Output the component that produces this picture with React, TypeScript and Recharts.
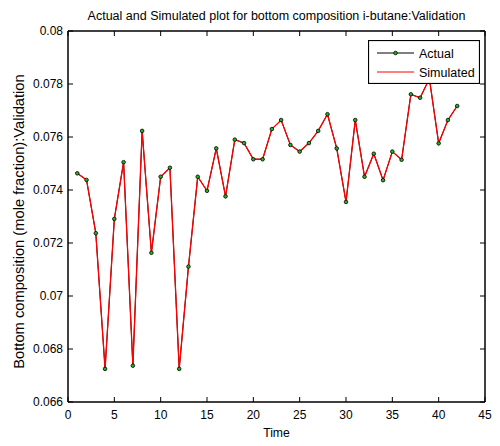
import React from 'react';
import { LineChart, Line, XAxis, YAxis, Legend, Label } from 'recharts';

const time = [1, 2, 3, 4, 5, 6, 7, 8, 9, 10, 11, 12, 13, 14, 15, 16, 17, 18, 19, 20, 21, 22, 23, 24, 25, 26, 27, 28, 29, 30, 31, 32, 33, 34, 35, 36, 37, 38, 39, 40, 41, 42];
const actual = [0.07463, 0.07438, 0.07237, 0.06725, 0.07291, 0.07505, 0.06737, 0.07623, 0.07163, 0.0745, 0.07484, 0.06725, 0.07111, 0.0745, 0.07397, 0.07557, 0.07376, 0.0759, 0.07577, 0.07516, 0.07516, 0.0763, 0.07664, 0.0757, 0.07545, 0.07577, 0.07623, 0.07686, 0.07557, 0.07355, 0.07664, 0.0745, 0.07537, 0.07437, 0.07545, 0.07514, 0.07761, 0.07748, 0.0782, 0.07576, 0.07664, 0.07717];
const simulated = [0.07463, 0.07438, 0.07237, 0.06725, 0.07291, 0.07505, 0.06737, 0.07623, 0.07163, 0.0745, 0.07484, 0.06725, 0.07111, 0.0745, 0.07397, 0.07557, 0.07376, 0.0759, 0.07577, 0.07516, 0.07516, 0.0763, 0.07664, 0.0757, 0.07545, 0.07577, 0.07623, 0.07686, 0.07557, 0.07355, 0.07664, 0.0745, 0.07537, 0.07437, 0.07545, 0.07514, 0.07761, 0.07748, 0.0782, 0.07576, 0.07664, 0.07717];

const xTicks = [0, 5, 10, 15, 20, 25, 30, 35, 40, 45];
const xTickLabels = ['0', '5', '10', '15', '20', '25', '30', '35', '40', '45'];
const yTicks = [0.066, 0.068, 0.07, 0.072, 0.074, 0.076, 0.078, 0.08];
const yTickLabels = ['0.066', '0.068', '0.07', '0.072', '0.074', '0.076', '0.078', '0.08'];

const titleText = 'Actual and Simulated plot for bottom composition i-butane:Validation';
const xLabelText = 'Time';
const yLabelText = 'Bottom composition (mole fraction):Validation';
const seriesNames = ['Actual', 'Simulated'];

const data = time.map((t, i) => ({ t, actual: actual[i], simulated: simulated[i] }));

const FONT = '"Liberation Sans", Arial, Helvetica, sans-serif';
const FS = 12;
const TICK_LEN = 5;
const AXIS_W = 1.5;
const MARKER_FILL = '#1fb31f';

const labelFor = (ticks: number[], labels: string[], v: number) => {
  const i = ticks.findIndex((t) => Math.abs(t - v) < 1e-9);
  return i >= 0 ? labels[i] : String(v);
};

const BottomTick = (props: any) => {
  const { x, y, payload } = props;
  return (
    <g>
      <line x1={x} x2={x} y1={y} y2={y - TICK_LEN} stroke="#000" strokeWidth={1} />
      <text x={x} y={y + 17} textAnchor="middle" fontSize={FS} fontFamily={FONT} fill="#000">
        {labelFor(xTicks, xTickLabels, payload.value)}
      </text>
    </g>
  );
};

const TopTick = (props: any) => {
  const { x, y } = props;
  return <line x1={x} x2={x} y1={y} y2={y + TICK_LEN} stroke="#000" strokeWidth={1} />;
};

const LeftTick = (props: any) => {
  const { x, y, payload } = props;
  return (
    <g>
      <line x1={x} x2={x + TICK_LEN} y1={y} y2={y} stroke="#000" strokeWidth={1} />
      <text x={x - 5} y={y} dy="0.36em" textAnchor="end" fontSize={FS} fontFamily={FONT} fill="#000">
        {labelFor(yTicks, yTickLabels, payload.value)}
      </text>
    </g>
  );
};

const RightTick = (props: any) => {
  const { x, y } = props;
  return <line x1={x} x2={x - TICK_LEN} y1={y} y2={y} stroke="#000" strokeWidth={1} />;
};

const TitleLabel = (props: any) => {
  const vb = props.viewBox;
  return (
    <text x={vb.x + vb.width / 2} y={vb.y - 10} textAnchor="middle" fontSize={12.5} fontFamily={FONT} fill="#000">
      {titleText}
    </text>
  );
};

const XLabel = (props: any) => {
  const vb = props.viewBox;
  return (
    <text x={vb.x + vb.width / 2} y={vb.y + 35} textAnchor="middle" fontSize={12.2} fontFamily={FONT} fill="#000">
      {xLabelText}
    </text>
  );
};

const YLabel = (props: any) => {
  const vb = props.viewBox;
  const cx = vb.x + 11;
  const cy = vb.y + vb.height / 2 + 5;
  return (
    <text
      x={cx}
      y={cy}
      textAnchor="middle"
      dominantBaseline="central"
      transform={`rotate(-90 ${cx} ${cy})`}
      fontSize={14.7}
      fontFamily={FONT}
      fill="#000"
    >
      {yLabelText}
    </text>
  );
};

const LegendBox = () => (
  <svg width={112} height={44} style={{ display: 'block' }}>
    <rect x={0.5} y={0.5} width={111} height={43} fill="#fff" stroke="#000" strokeWidth={1.2} />
    <line x1={9} x2={46} y1={13} y2={13} stroke="#000" strokeWidth={1} />
    <circle cx={27.5} cy={13} r={1.8} fill={MARKER_FILL} stroke="#000" strokeWidth={0.8} />
    <text x={51} y={13} dy="0.36em" fontSize={12.5} fontFamily={FONT} fill="#000">
      {seriesNames[0]}
    </text>
    <line x1={9} x2={46} y1={32} y2={32} stroke="#ff0000" strokeWidth={1} />
    <text x={51} y={32} dy="0.36em" fontSize={12.5} fontFamily={FONT} fill="#000">
      {seriesNames[1]}
    </text>
  </svg>
);

export default function App() {
  return (
    <div style={{ position: 'absolute', left: 0, top: 0, width: 500, height: 446, background: '#fff' }}>
      <LineChart width={500} height={446} data={data} margin={{ top: 30, right: 14, bottom: 14, left: 8 }}>
        <XAxis
          xAxisId="bottom"
          dataKey="t"
          type="number"
          domain={[0, 45]}
          ticks={xTicks}
          interval={0}
          height={30}
          tickSize={0}
          tickMargin={0}
          tickLine={false}
          axisLine={{ stroke: '#000', strokeWidth: AXIS_W }}
          tick={<BottomTick />}
        >
          <Label content={<XLabel />} />
        </XAxis>
        <XAxis
          xAxisId="top"
          orientation="top"
          dataKey="t"
          type="number"
          domain={[0, 45]}
          ticks={xTicks}
          interval={0}
          height={1}
          tickSize={0}
          tickMargin={0}
          tickLine={false}
          axisLine={{ stroke: '#000', strokeWidth: AXIS_W }}
          tick={<TopTick />}
        >
          <Label content={<TitleLabel />} />
        </XAxis>
        <YAxis
          yAxisId="left"
          type="number"
          domain={[0.066, 0.08]}
          ticks={yTicks}
          interval={0}
          width={60}
          tickSize={0}
          tickMargin={0}
          tickLine={false}
          axisLine={{ stroke: '#000', strokeWidth: AXIS_W }}
          tick={<LeftTick />}
        >
          <Label content={<YLabel />} />
        </YAxis>
        <YAxis
          yAxisId="right"
          orientation="right"
          type="number"
          domain={[0.066, 0.08]}
          ticks={yTicks}
          interval={0}
          width={1}
          tickSize={0}
          tickMargin={0}
          tickLine={false}
          axisLine={{ stroke: '#000', strokeWidth: AXIS_W }}
          tick={<RightTick />}
        />
        <Legend
          layout="horizontal"
          verticalAlign="middle"
          align="center"
          wrapperStyle={{ left: 368, top: 40, width: 112, height: 44 }}
          content={() => <LegendBox />}
        />
        <Line
          xAxisId="bottom"
          yAxisId="left"
          type="linear"
          dataKey="actual"
          name={seriesNames[0]}
          stroke="#000"
          strokeWidth={1}
          dot={false}
          activeDot={false}
          isAnimationActive={false}
        />
        <Line
          xAxisId="bottom"
          yAxisId="left"
          type="linear"
          dataKey="simulated"
          name={seriesNames[1]}
          stroke="#ff0000"
          strokeWidth={1.3}
          dot={false}
          activeDot={false}
          isAnimationActive={false}
        />
        <Line
          xAxisId="top"
          yAxisId="right"
          type="linear"
          dataKey="actual"
          name="actual-markers"
          legendType="none"
          stroke="none"
          dot={{ r: 1.8, fill: MARKER_FILL, stroke: '#000', strokeWidth: 0.8 }}
          activeDot={false}
          isAnimationActive={false}
        />
      </LineChart>
    </div>
  );
}
